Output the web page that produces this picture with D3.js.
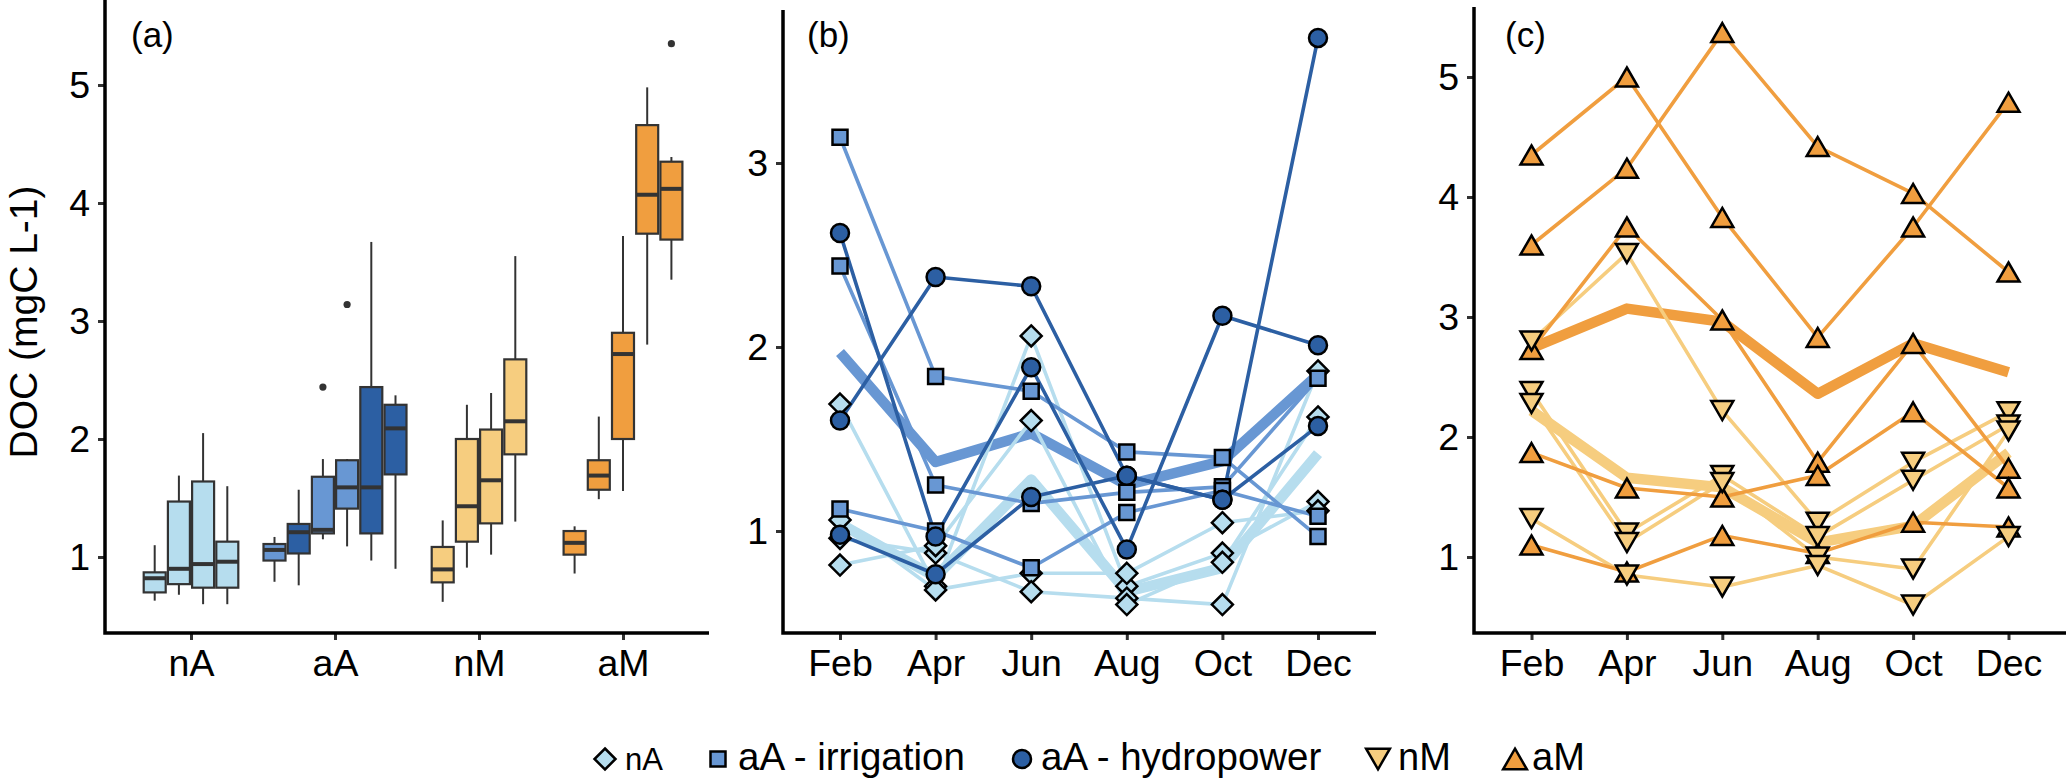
<!DOCTYPE html>
<html><head><meta charset="utf-8">
<script src="https://cdn.jsdelivr.net/npm/d3@7"></script>
<style>body{margin:0;background:#fff}svg{display:block}text{font-family:"Liberation Sans",Arial,Helvetica,sans-serif;fill:#000}</style>
</head><body><svg id="c" width="2067" height="778"></svg>
<script>
// ---------- DATA ----------
const groups = ["nA","aA","nM","aM"];
const months = ["Feb","Apr","Jun","Aug","Oct","Dec"];
const ticksA = [1,2,3,4,5];
const ticksB = [1,2,3];
const ticksC = [1,2,3,4,5];

// panel (a) boxplots, one entry per site
const boxGroup = ["nA","nA","nA","nA","aA","aA","aA","aA","aA","aA","nM","nM","nM","nM","aM","aM","aM","aM","aM"];
const boxType  = ["nA","nA","nA","nA","irr","hyd","irr","irr","hyd","hyd","nM","nM","nM","nM","aM","aM","aM","aM","aM"];
const boxLo  = [0.63,0.68,0.60,0.60, 0.79,0.76,1.15,1.09,0.97,0.90, 0.62,0.91,1.02,1.30, 0.86,1.49,1.56,2.80,3.35];
const boxQ1  = [0.70,0.77,0.74,0.74, 0.97,1.03,1.20,1.41,1.20,1.70, 0.785,1.13,1.285,1.87, 1.02,1.57,2.00,3.74,3.69];
const boxMed = [0.82,0.90,0.94,0.96, 1.06,1.21,1.23,1.59,1.59,2.09, 0.895,1.43,1.65,2.15, 1.12,1.69,2.72,4.07,4.12];
const boxQ3  = [0.87,1.47,1.64,1.13, 1.11,1.28,1.68,1.82,2.44,2.29, 1.085,2.00,2.08,2.675, 1.22,1.82,2.90,4.66,4.35];
const boxHi  = [1.10,1.69,2.05,1.60, 1.17,1.57,1.83,1.83,3.67,2.37, 1.31,2.29,2.39,3.55, 1.26,2.19,3.72,4.98,4.39];
const boxOut = [[],[],[],[], [],[],[2.44],[3.14],[],[], [],[],[],[], [],[],[],[],[5.35]];

// panel (b): Feb..Dec
const nASites = [
  [1.69,0.70,2.06,0.70,0.88,1.16],
  [1.06,0.68,0.77,0.77,1.045,1.11],
  [0.96,0.88,0.67,0.635,0.60,1.87],
  [0.815,0.92,1.60,0.60,0.83,1.62]
];
const irrSites = [
  [3.14,1.84,1.76,1.43,1.40,0.97],
  [2.44,1.25,1.15,1.21,1.24,1.83],
  [1.12,1.00,0.80,1.10,1.22,1.08]
];
const hydSites = [
  [2.62,0.97,1.89,0.90,2.17,2.01],
  [1.60,2.38,2.33,1.30,1.17,3.68],
  [0.98,0.765,1.185,1.30,1.17,1.57]
];
const nAMean = [1.04,0.75,1.28,0.67,0.80,1.42];
const aAMean = [1.97,1.375,1.53,1.25,1.38,1.85];

// panel (c)
const nMSites = [
  [2.80,3.53,2.22,1.29,1.79,2.21],
  [2.38,1.20,1.68,1.17,1.64,2.10],
  [2.28,1.12,1.62,1.00,0.90,2.05],
  [1.32,0.85,0.75,0.93,0.60,1.17]
];
const aMSites = [
  [4.35,5.00,3.83,2.83,3.75,4.79],
  [3.60,4.24,5.37,4.42,4.03,3.375],
  [2.73,3.75,2.975,1.79,2.78,1.74],
  [1.87,1.575,1.50,1.68,2.21,1.575],
  [1.10,0.875,1.18,1.03,1.29,1.25]
];
const nMMean = [2.22,1.66,1.58,1.12,1.26,1.87];
const aMMean = [2.74,3.07,2.96,2.36,2.78,2.54];

const legendKeys = ["nA","irr","hyd","nM","aM"];
const legendLabels = ["nA","aA - irrigation","aA - hydropower","nM","aM"];

// ---------- STYLE ----------
const col = {nA:"#B6DDEE", irr:"#6897D3", hyd:"#2C5FA3", nM:"#F6CD7F", aM:"#F09E3F"};
const shapeOf = {nA:"diamond", irr:"square", hyd:"circle", nM:"down", aM:"up"};
const svg = d3.select("#c");
const axisY = 633;
const TICK_FS = 37.5;

function shapePath(s, k){
  k = k||1;
  if(s==="diamond"){const r=10.5*k;return `M0,${-r}L${r},0L0,${r}L${-r},0Z`;}
  if(s==="square"){const h=7.5*k;return `M${-h},${-h}H${h}V${h}H${-h}Z`;}
  if(s==="up"){const w=11*k,h=9.5*k;return `M0,${-h}L${w},${h}L${-w},${h}Z`;}
  if(s==="down"){const w=11*k,h=9.5*k;return `M0,${h}L${w},${-h}L${-w},${-h}Z`;}
  return null;
}
function marker(g, s, x, y, fill, k){
  if(s==="circle"){
    g.append("circle").attr("cx",x).attr("cy",y).attr("r",9*(k||1))
     .attr("fill",fill).attr("stroke","#000").attr("stroke-width",2.5);
  } else {
    g.append("path").attr("d",shapePath(s,k)).attr("transform",`translate(${x},${y})`)
     .attr("fill",fill).attr("stroke","#000").attr("stroke-width",2.5).attr("stroke-linejoin","miter");
  }
}

function drawAxes(x, y, x0, x1, yTop, tickVals){
  const gy = svg.append("g").attr("transform",`translate(${x0},0)`)
    .call(d3.axisLeft(y).tickValues(tickVals).tickSize(7).tickPadding(8).tickFormat(d3.format("d")));
  gy.select(".domain").remove();
  gy.selectAll(".tick line").attr("stroke","#333").attr("stroke-width",3);
  gy.selectAll(".tick text").attr("font-size",TICK_FS).attr("fill","#000")
    .style("font-family","'Liberation Sans',Arial,sans-serif");
  const gx = svg.append("g").attr("transform",`translate(0,${axisY})`)
    .call(d3.axisBottom(x).tickSize(7).tickPadding(9.5));
  gx.select(".domain").remove();
  gx.selectAll(".tick line").attr("stroke","#333").attr("stroke-width",3);
  gx.selectAll(".tick text").attr("font-size",TICK_FS).attr("fill","#000")
    .style("font-family","'Liberation Sans',Arial,sans-serif");
  svg.append("path").attr("d",`M${x0},${yTop}V${axisY}H${x1}`)
    .attr("fill","none").attr("stroke","#000").attr("stroke-width",3.5).attr("stroke-linejoin","miter");
}

// ---------- PANEL A ----------
const xa = d3.scalePoint().domain(groups).range([191,623]);
const ya = d3.scaleLinear().domain([0,5]).range([675,85]);
const step = 24.2, bw = 22;
const gA = svg.append("g");
groups.forEach(gname=>{
  const idx = boxGroup.map((g,i)=>g===gname?i:-1).filter(i=>i>=0);
  idx.forEach((bi,j)=>{
    const cx = xa(gname) + (j-(idx.length-1)/2)*step;
    const g = gA.append("g");
    g.append("line").attr("x1",cx).attr("x2",cx).attr("y1",ya(boxHi[bi])).attr("y2",ya(boxQ3[bi]))
      .attr("stroke","#333").attr("stroke-width",2);
    g.append("line").attr("x1",cx).attr("x2",cx).attr("y1",ya(boxQ1[bi])).attr("y2",ya(boxLo[bi]))
      .attr("stroke","#333").attr("stroke-width",2);
    g.append("rect").attr("x",cx-bw/2).attr("width",bw)
      .attr("y",ya(boxQ3[bi])).attr("height",ya(boxQ1[bi])-ya(boxQ3[bi]))
      .attr("fill",col[boxType[bi]]).attr("stroke","#333").attr("stroke-width",2.2);
    g.append("line").attr("x1",cx-bw/2).attr("x2",cx+bw/2).attr("y1",ya(boxMed[bi])).attr("y2",ya(boxMed[bi]))
      .attr("stroke","#333").attr("stroke-width",4);
    boxOut[bi].forEach(o=>{
      g.append("circle").attr("cx",cx).attr("cy",ya(o)).attr("r",3.6).attr("fill","#333");
    });
  });
});
drawAxes(xa, ya, 105, 709, 0, ticksA);

// ---------- PANEL B / C helpers ----------
function linePanel(x, y, means, thin, markerSets){
  const g = svg.append("g");
  const line = d3.line().x((d,i)=>x(months[i])).y(d=>y(d));
  means.forEach(([vals,c])=>{
    g.append("path").attr("d",line(vals)).attr("fill","none").attr("stroke",c)
     .attr("stroke-width",10.5).attr("stroke-linejoin","round");
  });
  thin.forEach(([sites,c])=>{
    sites.forEach(vals=>{
      g.append("path").attr("d",line(vals)).attr("fill","none").attr("stroke",c)
       .attr("stroke-width",3.6).attr("stroke-linejoin","round");
    });
  });
  markerSets.forEach(([sites,key])=>{
    sites.forEach(vals=>{
      vals.forEach((v,i)=>marker(g, shapeOf[key], x(months[i]), y(v), col[key]));
    });
  });
}

// ---------- PANEL B ----------
const xb = d3.scalePoint().domain(months).range([840,1318]);
const yb = d3.scaleLinear().domain([1,3]).range([531,163]);
linePanel(xb, yb,
  [[nAMean,col.nA],[aAMean,col.irr]],
  [[nASites,col.nA],[irrSites,col.irr],[hydSites,col.hyd]],
  [[nASites,"nA"],[irrSites,"irr"],[hydSites,"hyd"]]);
drawAxes(xb, yb, 783, 1376, 10, ticksB);

// ---------- PANEL C ----------
const xc = d3.scalePoint().domain(months).range([1531.5,2008.5]);
const yc = d3.scaleLinear().domain([2,5]).range([437,77]);
linePanel(xc, yc,
  [[nMMean,col.nM],[aMMean,col.aM]],
  [[nMSites,col.nM],[aMSites,col.aM]],
  [[aMSites,"aM"],[nMSites,"nM"]]);
drawAxes(xc, yc, 1474, 2066, 7, ticksC);

// ---------- LABELS ----------
[["(a)",131],["(b)",807],["(c)",1505]].forEach(([t,x])=>{
  svg.append("text").attr("x",x).attr("y",47).attr("font-size",35).text(t);
});
svg.append("text").attr("transform","translate(37,322) rotate(-90)")
  .attr("text-anchor","middle").attr("font-size",39).text("DOC (mgC L-1)");

// ---------- LEGEND ----------
const legX = [605,718,1022,1378,1515];
const legTX = [625,738,1041,1398,1532];
const legFS = [31,38.5,38.5,38,38];
const gL = svg.append("g");
legendKeys.forEach((k,i)=>{
  marker(gL, shapeOf[k], legX[i], 759, col[k], k==="nM"||k==="aM"?1.08:1.0);
  gL.append("text").attr("x",legTX[i]).attr("y",770).attr("font-size",legFS[i]).text(legendLabels[i]);
});
</script></body></html>
